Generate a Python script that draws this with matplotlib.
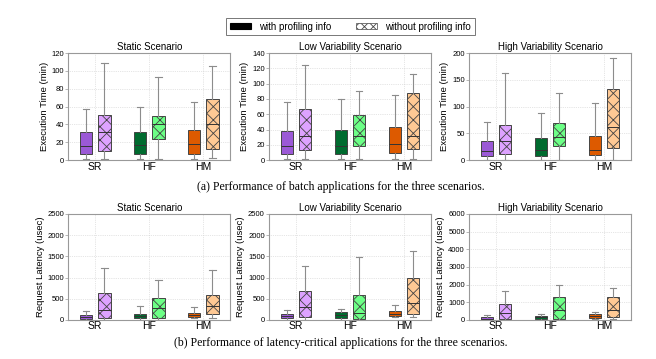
import numpy as np
import matplotlib
matplotlib.use('Agg')
import matplotlib.pyplot as plt
from matplotlib.patches import Patch

# rendered at dpi 80 so the hatch cell comes close to the original
DPI = 80
S = 100 / DPI  # size factor so text/lines keep their pixel size

plt.rcParams['font.family'] = ['Liberation Sans', 'DejaVu Sans']
plt.rcParams['hatch.linewidth'] = 0.6 * S
plt.rcParams['hatch.color'] = '#444444'

##############################################################################
groups = ['SR', 'HF', 'HM']
scenarios = ['Static Scenario', 'Low Variability Scenario', 'High Variability Scenario']
fill_with = ['#9b59d6', '#006b2f', '#dd5a00']
fill_without = ['#dda2ff', '#6cff86', '#ffc994']

# stats per box: (whislo, q1, med, q3, whishi); order SR, HF, HM
# (a) batch apps, execution time (min)
batch_with = [
    [(1, 7, 16, 32, 57), (1, 7, 17, 32, 60), (1, 7, 18, 34, 65)],
    [(1, 8, 19, 38, 76), (1, 8, 19, 39, 80), (1, 9, 21, 43, 85)],
    [(1, 7, 17, 36, 72), (1, 7, 19, 41, 88), (1, 9, 19, 45, 106)],
]
batch_without = [
    [(1, 10, 32, 51, 109), (1, 24, 41, 50, 93), (2, 13, 40, 68, 106)],
    [(2, 13, 31, 67, 124), (1, 19, 31, 59, 90), (1, 15, 32, 88, 113)],
    [(1, 11, 36, 65, 163), (1, 26, 44, 69, 125), (1, 23, 62, 133, 191)],
]
batch_ylim = [120, 140, 200]
batch_yticks = [np.arange(0, 121, 20), np.arange(0, 141, 20), np.arange(0, 201, 50)]

# (b) latency-critical apps, request latency (usec)
lat_with = [
    [(5, 25, 70, 125, 204), (5, 40, 100, 141, 321), (50, 63, 110, 165, 305)],
    [(5, 39, 86, 141, 227), (5, 39, 118, 188, 250), (60, 102, 133, 204, 353)],
    [(5, 19, 75, 169, 282), (5, 38, 150, 245, 320), (30, 94, 207, 357, 451)],
]
lat_without = [
    [(5, 47, 243, 635, 1223), (5, 47, 282, 517, 940), (50, 149, 321, 580, 1175)],
    [(5, 70, 313, 682, 1262), (5, 31, 165, 588, 1481), (78, 149, 400, 980, 1622)],
    [(5, 56, 395, 922, 1617), (5, 56, 583, 1279, 1975), (60, 150, 583, 1279, 1824)],
]
lat_ylim = [2500, 2500, 6000]
lat_yticks = [np.arange(0, 2501, 500), np.arange(0, 2501, 500), np.arange(0, 6001, 1000)]
##############################################################################


def stats(t):
    lo, q1, med, q3, hi = t
    return {'whislo': lo, 'q1': q1, 'med': med, 'q3': q3, 'whishi': hi, 'fliers': []}


def draw_panel(ax, with_vals, without_vals, ylim, yticks, title, ylabel):
    xs = np.arange(1, len(groups) + 1)
    for vals, off, fills, hatch in [(with_vals, -0.17, fill_with, None),
                                    (without_vals, 0.17, fill_without, 'xx')]:
        bp = ax.bxp([stats(v) for v in vals], positions=xs + off, widths=0.23,
                    patch_artist=True, showfliers=False,
                    whiskerprops=dict(color='#8c8c8c', lw=0.8 * S),
                    capprops=dict(color='#8c8c8c', lw=0.8 * S),
                    medianprops=dict(color='#333333', lw=0.7 * S),
                    boxprops=dict(lw=0.7 * S))
        for box, c in zip(bp['boxes'], fills):
            box.set_facecolor(c)
            box.set_edgecolor('#444444')
            if hatch:
                box.set_hatch(hatch)
    ax.set_xlim(0.5, 3.5)
    ax.set_ylim(0, ylim)
    ax.set_yticks(yticks)
    ax.set_xticks(xs)
    ax.set_xticklabels(groups, fontsize=7.5 * S)
    ax.tick_params(axis='y', labelsize=5.5 * S, length=2 * S, width=0.5 * S,
                   pad=1 * S, color='#999999')
    ax.tick_params(axis='x', length=0, pad=1 * S)
    ax.grid(True, ls=':', lw=0.5 * S, color='#cccccc')
    ax.set_axisbelow(True)
    for s in ax.spines.values():
        s.set_color('#999999')
        s.set_linewidth(0.8 * S)
    ax.set_title(title, fontsize=7 * S, pad=2 * S)
    ax.set_ylabel(ylabel, fontsize=6.8 * S, labelpad=2 * S)


fig = plt.figure(figsize=(656 / DPI, 359 / DPI), dpi=DPI)
lefts = [0.104, 0.410, 0.715]
for i in range(3):
    ax = fig.add_axes([lefts[i], 0.554, 0.247, 0.298])
    draw_panel(ax, batch_with[i], batch_without[i], batch_ylim[i], batch_yticks[i],
               scenarios[i], 'Execution Time (min)')
    ax = fig.add_axes([lefts[i], 0.109, 0.247, 0.295])
    draw_panel(ax, lat_with[i], lat_without[i], lat_ylim[i], lat_yticks[i],
               scenarios[i], 'Request Latency (usec)')

fig.text(0.52, 0.478, '(a) Performance of batch applications for the three scenarios.',
         ha='center', va='center', fontsize=8.5 * S, family='Liberation Serif')
fig.text(0.52, 0.045, '(b) Performance of latency-critical applications for the three scenarios.',
         ha='center', va='center', fontsize=8.5 * S, family='Liberation Serif')

handles = [Patch(facecolor='black', edgecolor='black'),
           Patch(facecolor='white', edgecolor='#444444', hatch='xxx', lw=0.5 * S)]
leg = fig.legend(handles, ['with profiling info', 'without profiling info'],
                 loc='center', bbox_to_anchor=(0.534, 0.926), ncol=2, fontsize=7 * S,
                 frameon=True, fancybox=False, handlelength=2.2, handleheight=0.6,
                 columnspacing=2.5, borderpad=0.4)
leg.get_frame().set_edgecolor('#555555')
leg.get_frame().set_linewidth(0.7 * S)

fig.savefig('out.png', dpi=DPI)
